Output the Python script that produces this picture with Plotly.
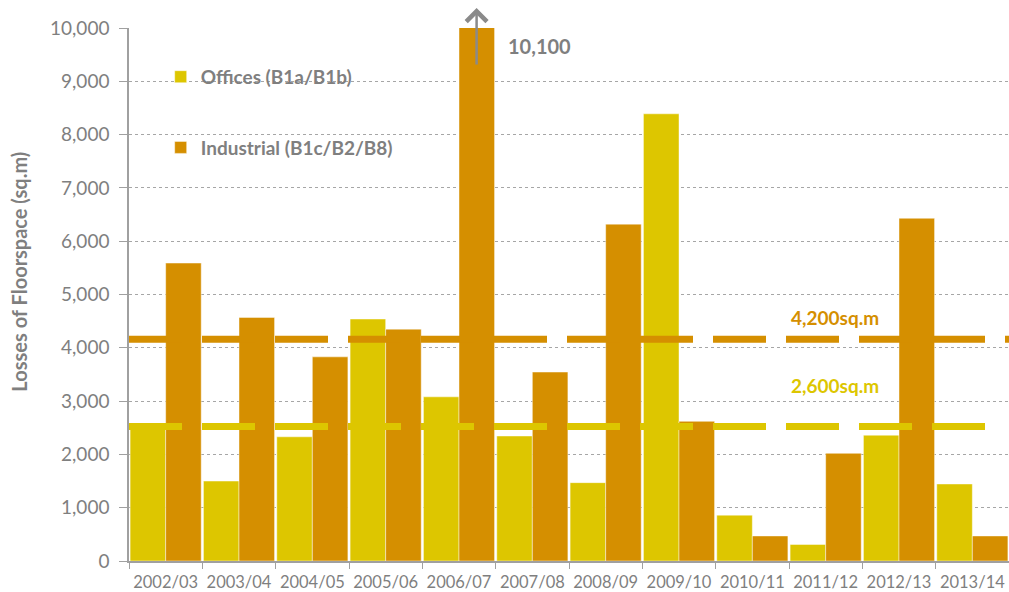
import plotly.graph_objects as go

# data
years = ["2002/03", "2003/04", "2004/05", "2005/06", "2006/07", "2007/08",
         "2008/09", "2009/10", "2010/11", "2011/12", "2012/13", "2013/14"]
offices = [2585, 1500, 2330, 4540, 3080, 2345, 1470, 8390, 860, 310, 2360, 1445]
industrial = [5590, 4570, 3830, 4350, 10100, 3545, 6320, 2620, 470, 2020, 6430, 470]

industrial_avg = 4160   # drawn line, labelled 4,200sq.m
offices_avg = 2525      # drawn line, labelled 2,600sq.m
industrial_label = "4,200sq.m"
offices_label = "2,600sq.m"
peak_label = "10,100"

yellow = "#DDC600"
orange = "#D58F00"
grey = "#7F7F7F"
font = "Lato"

fig = go.Figure()
fig.add_trace(go.Bar(x=years, y=offices, name="Offices (B1a/B1b)", legendgroup="a",
                     marker=dict(color=yellow, line=dict(color="rgba(255,255,255,0.45)", width=1))))
fig.add_trace(go.Bar(x=years, y=industrial, name="Industrial (B1c/B2/B8)", legendgroup="b",
                     marker=dict(color=orange, line=dict(color="rgba(255,255,255,0.45)", width=1))))

# white box behind the legend hides the grid there
fig.add_shape(type="rect", xref="paper", yref="paper", x0=0.015, x1=0.352, y0=0.724, y1=0.968,
              fillcolor="white", line_width=0, layer="between")

# average lines (the offices one stops after its last full dash)
for val, col, end in [(industrial_avg, orange, 1), (offices_avg, yellow, 0.99)]:
    fig.add_shape(type="line", xref="paper", yref="y", x0=0, x1=end, y0=val, y1=val,
                  line=dict(color=col, width=7, dash="53px,20px"), layer="above")

fig.add_annotation(xref="paper", yref="y", x=0.802, y=4560, text=industrial_label, showarrow=False,
                   xanchor="center", font=dict(family=font, size=19, color=orange, weight="bold"))
fig.add_annotation(xref="paper", yref="y", x=0.802, y=3290, text=offices_label, showarrow=False,
                   xanchor="center", font=dict(family=font, size=19, color=yellow, weight="bold"))

# arrow showing the clipped bar
fig.add_annotation(xref="x", yref="paper", x=4.24, y=1.0375, ax=0, ay=58, text="",
                   showarrow=True, arrowhead=4, arrowsize=1.6, arrowwidth=2.5, arrowcolor="#8A8A8A",
                   standoff=0)
fig.add_annotation(xref="paper", yref="y", x=0.467, y=9660, text=peak_label, showarrow=False,
                   xanchor="center", font=dict(family=font, size=20, color=grey, weight="bold"))

# y axis title, sits a little above the middle of the axis
fig.add_annotation(xref="paper", yref="paper", x=-0.1244, y=0.542, text="Losses of Floorspace (sq.m)",
                   textangle=-90, showarrow=False, xanchor="center", yanchor="middle",
                   font=dict(family=font, size=20, color=grey, weight="bold"))

fig.update_layout(
    width=1009, height=592,
    margin=dict(l=129, r=0, t=28, b=31),
    plot_bgcolor="white", paper_bgcolor="white",
    font=dict(family=font, color=grey),
    barmode="group", bargap=0.03, bargroupgap=0,
    legend=dict(x=0.036, y=0.944, xanchor="left", yanchor="top", bgcolor="rgba(0,0,0,0)",
                traceorder="grouped", tracegroupgap=43,
                font=dict(family=font, size=19, color=grey, weight="bold")),
)
fig.update_xaxes(type="category", showline=True, linecolor="#A0A0A0", linewidth=1.5,
                 ticks="outside", ticklen=6, tickcolor="#A0A0A0", tickson="boundaries",
                 tickangle=0, tickfont=dict(family=font, size=16.5, color=grey), showgrid=False,
                 automargin=False, ticklabelstandoff=5)
fig.update_yaxes(range=[0, 10000], tickvals=list(range(0, 10001, 1000)), tickformat=",",
                 showline=True, linecolor="#A0A0A0", linewidth=1.5,
                 ticks="outside", ticklen=8, tickcolor="#A0A0A0",
                 showgrid=True, gridcolor="#A6A6A6", griddash="dot", gridwidth=1,
                 zeroline=False, tickfont=dict(family=font, size=19, color=grey),
                 ticklabelstandoff=6, automargin=False)

fig.write_html("out.html", config={"displayModeBar": False},
               post_script="document.body.style.margin='0';")
